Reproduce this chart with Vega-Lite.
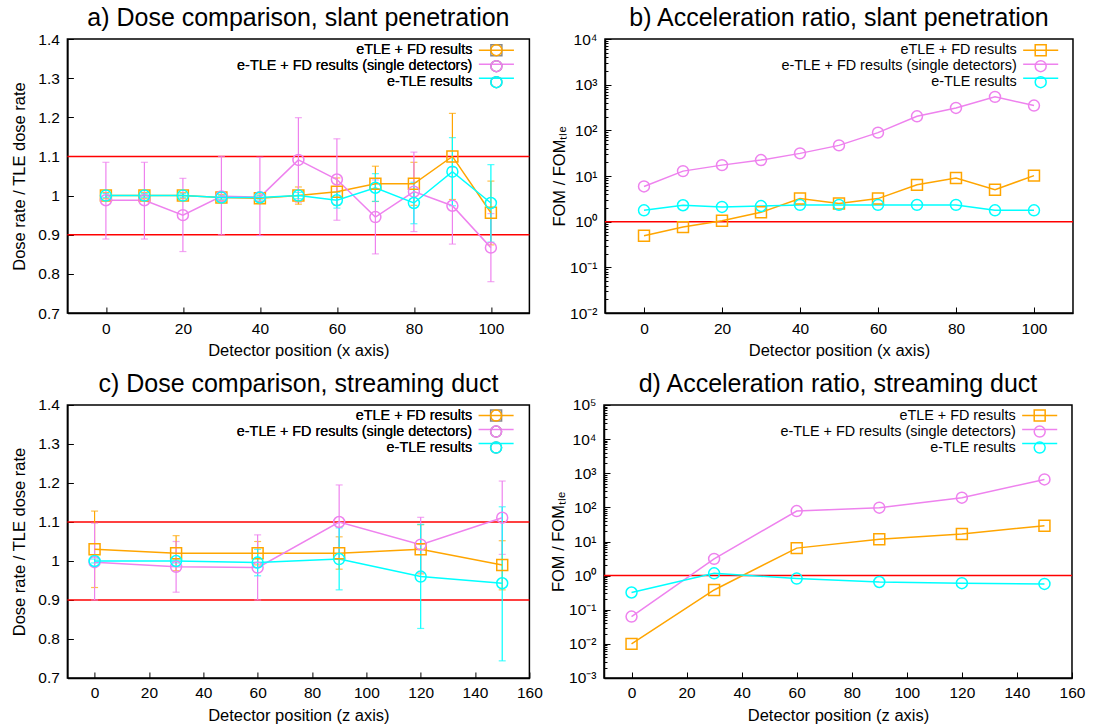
{
  "$schema": "https://vega.github.io/schema/vega-lite/v6.json",
  "padding": {"left": 10.4, "top": 5, "right": 5, "bottom": 0},
  "spacing": 11,
  "resolve": {"scale": {"color": "independent", "shape": "independent", "stroke": "independent"}, "legend": {"color": "independent", "shape": "independent", "stroke": "independent"}},
  "datasets": {
    "a": [
      {"s": "eTLE + FD results", "x": 0, "y": 1.0, "lo": 0.992, "hi": 1.008},
      {"s": "eTLE + FD results", "x": 10, "y": 1.0, "lo": 0.992, "hi": 1.008},
      {"s": "eTLE + FD results", "x": 20, "y": 1.0, "lo": 0.992, "hi": 1.008},
      {"s": "eTLE + FD results", "x": 30, "y": 0.995, "lo": 0.987, "hi": 1.003},
      {"s": "eTLE + FD results", "x": 40, "y": 0.993, "lo": 0.985, "hi": 1.001},
      {"s": "eTLE + FD results", "x": 50, "y": 1.0, "lo": 0.978, "hi": 1.022},
      {"s": "eTLE + FD results", "x": 60, "y": 1.01, "lo": 0.975, "hi": 1.045},
      {"s": "eTLE + FD results", "x": 70, "y": 1.03, "lo": 0.985, "hi": 1.075},
      {"s": "eTLE + FD results", "x": 80, "y": 1.03, "lo": 0.975, "hi": 1.085},
      {"s": "eTLE + FD results", "x": 90, "y": 1.1, "lo": 0.99, "hi": 1.21},
      {"s": "eTLE + FD results", "x": 100, "y": 0.956, "lo": 0.874, "hi": 1.037},
      {"s": "e-TLE + FD results (single detectors)", "x": 0, "y": 0.988, "lo": 0.889, "hi": 1.085},
      {"s": "e-TLE + FD results (single detectors)", "x": 10, "y": 0.988, "lo": 0.889, "hi": 1.085},
      {"s": "e-TLE + FD results (single detectors)", "x": 20, "y": 0.95, "lo": 0.857, "hi": 1.044},
      {"s": "e-TLE + FD results (single detectors)", "x": 30, "y": 0.998, "lo": 0.9, "hi": 1.1},
      {"s": "e-TLE + FD results (single detectors)", "x": 40, "y": 0.996, "lo": 0.898, "hi": 1.098},
      {"s": "e-TLE + FD results (single detectors)", "x": 50, "y": 1.091, "lo": 0.983, "hi": 1.199},
      {"s": "e-TLE + FD results (single detectors)", "x": 60, "y": 1.041, "lo": 0.937, "hi": 1.145},
      {"s": "e-TLE + FD results (single detectors)", "x": 70, "y": 0.945, "lo": 0.851, "hi": 1.04},
      {"s": "e-TLE + FD results (single detectors)", "x": 80, "y": 1.01, "lo": 0.908, "hi": 1.111},
      {"s": "e-TLE + FD results (single detectors)", "x": 90, "y": 0.974, "lo": 0.876, "hi": 1.072},
      {"s": "e-TLE + FD results (single detectors)", "x": 100, "y": 0.867, "lo": 0.78, "hi": 0.954},
      {"s": "e-TLE results", "x": 0, "y": 1.0, "lo": 0.995, "hi": 1.005},
      {"s": "e-TLE results", "x": 10, "y": 1.0, "lo": 0.995, "hi": 1.005},
      {"s": "e-TLE results", "x": 20, "y": 1.0, "lo": 0.995, "hi": 1.005},
      {"s": "e-TLE results", "x": 30, "y": 0.995, "lo": 0.99, "hi": 1.0},
      {"s": "e-TLE results", "x": 40, "y": 0.995, "lo": 0.989, "hi": 1.001},
      {"s": "e-TLE results", "x": 50, "y": 1.0, "lo": 0.992, "hi": 1.008},
      {"s": "e-TLE results", "x": 60, "y": 0.988, "lo": 0.968, "hi": 1.008},
      {"s": "e-TLE results", "x": 70, "y": 1.02, "lo": 0.985, "hi": 1.056},
      {"s": "e-TLE results", "x": 80, "y": 0.981, "lo": 0.928, "hi": 1.034},
      {"s": "e-TLE results", "x": 90, "y": 1.061, "lo": 0.974, "hi": 1.148},
      {"s": "e-TLE results", "x": 100, "y": 0.981, "lo": 0.881, "hi": 1.079}
    ],
    "b": [
      {"s": "eTLE + FD results", "x": 0, "y": 0.49},
      {"s": "eTLE + FD results", "x": 10, "y": 0.76},
      {"s": "eTLE + FD results", "x": 20, "y": 1.05},
      {"s": "eTLE + FD results", "x": 30, "y": 1.6},
      {"s": "eTLE + FD results", "x": 40, "y": 3.2},
      {"s": "eTLE + FD results", "x": 50, "y": 2.5},
      {"s": "eTLE + FD results", "x": 60, "y": 3.2},
      {"s": "eTLE + FD results", "x": 70, "y": 6.4},
      {"s": "eTLE + FD results", "x": 80, "y": 9.0},
      {"s": "eTLE + FD results", "x": 90, "y": 5.0},
      {"s": "eTLE + FD results", "x": 100, "y": 10.2},
      {"s": "e-TLE + FD results (single detectors)", "x": 0, "y": 5.9},
      {"s": "e-TLE + FD results (single detectors)", "x": 10, "y": 12.8},
      {"s": "e-TLE + FD results (single detectors)", "x": 20, "y": 17.3},
      {"s": "e-TLE + FD results (single detectors)", "x": 30, "y": 22.3},
      {"s": "e-TLE + FD results (single detectors)", "x": 40, "y": 31.3},
      {"s": "e-TLE + FD results (single detectors)", "x": 50, "y": 46.8},
      {"s": "e-TLE + FD results (single detectors)", "x": 60, "y": 89},
      {"s": "e-TLE + FD results (single detectors)", "x": 70, "y": 203},
      {"s": "e-TLE + FD results (single detectors)", "x": 80, "y": 309},
      {"s": "e-TLE + FD results (single detectors)", "x": 90, "y": 540},
      {"s": "e-TLE + FD results (single detectors)", "x": 100, "y": 349},
      {"s": "e-TLE results", "x": 0, "y": 1.77},
      {"s": "e-TLE results", "x": 10, "y": 2.29},
      {"s": "e-TLE results", "x": 20, "y": 2.1},
      {"s": "e-TLE results", "x": 30, "y": 2.2},
      {"s": "e-TLE results", "x": 40, "y": 2.33},
      {"s": "e-TLE results", "x": 50, "y": 2.33},
      {"s": "e-TLE results", "x": 60, "y": 2.33},
      {"s": "e-TLE results", "x": 70, "y": 2.33},
      {"s": "e-TLE results", "x": 80, "y": 2.33},
      {"s": "e-TLE results", "x": 90, "y": 1.77},
      {"s": "e-TLE results", "x": 100, "y": 1.77}
    ],
    "c": [
      {"s": "eTLE + FD results", "x": 0, "y": 1.03, "lo": 0.932, "hi": 1.128},
      {"s": "eTLE + FD results", "x": 30, "y": 1.02, "lo": 0.975, "hi": 1.065},
      {"s": "eTLE + FD results", "x": 60, "y": 1.02, "lo": 0.99, "hi": 1.05},
      {"s": "eTLE + FD results", "x": 90, "y": 1.02, "lo": 0.979, "hi": 1.062},
      {"s": "eTLE + FD results", "x": 120, "y": 1.03, "lo": 0.967, "hi": 1.093},
      {"s": "eTLE + FD results", "x": 150, "y": 0.99, "lo": 0.926, "hi": 1.052},
      {"s": "e-TLE + FD results (single detectors)", "x": 0, "y": 0.997, "lo": 0.9, "hi": 1.097},
      {"s": "e-TLE + FD results (single detectors)", "x": 30, "y": 0.985, "lo": 0.92, "hi": 1.05},
      {"s": "e-TLE + FD results (single detectors)", "x": 60, "y": 0.983, "lo": 0.9, "hi": 1.067},
      {"s": "e-TLE + FD results (single detectors)", "x": 90, "y": 1.1, "lo": 1.005, "hi": 1.195},
      {"s": "e-TLE + FD results (single detectors)", "x": 120, "y": 1.042, "lo": 0.97, "hi": 1.112},
      {"s": "e-TLE + FD results (single detectors)", "x": 150, "y": 1.111, "lo": 1.017, "hi": 1.205},
      {"s": "e-TLE results", "x": 0, "y": 1.0, "lo": 0.995, "hi": 1.005},
      {"s": "e-TLE results", "x": 30, "y": 1.0, "lo": 0.995, "hi": 1.005},
      {"s": "e-TLE results", "x": 60, "y": 0.996, "lo": 0.962, "hi": 1.03},
      {"s": "e-TLE results", "x": 90, "y": 1.005, "lo": 0.926, "hi": 1.085},
      {"s": "e-TLE results", "x": 120, "y": 0.96, "lo": 0.827, "hi": 1.094},
      {"s": "e-TLE results", "x": 150, "y": 0.943, "lo": 0.744, "hi": 1.139}
    ],
    "d": [
      {"s": "eTLE + FD results", "x": 0, "y": 0.01},
      {"s": "eTLE + FD results", "x": 30, "y": 0.38},
      {"s": "eTLE + FD results", "x": 60, "y": 6.4},
      {"s": "eTLE + FD results", "x": 90, "y": 11.6},
      {"s": "eTLE + FD results", "x": 120, "y": 16.6},
      {"s": "eTLE + FD results", "x": 150, "y": 29},
      {"s": "e-TLE + FD results (single detectors)", "x": 0, "y": 0.063},
      {"s": "e-TLE + FD results (single detectors)", "x": 30, "y": 3.1},
      {"s": "e-TLE + FD results (single detectors)", "x": 60, "y": 78},
      {"s": "e-TLE + FD results (single detectors)", "x": 90, "y": 98},
      {"s": "e-TLE + FD results (single detectors)", "x": 120, "y": 192},
      {"s": "e-TLE + FD results (single detectors)", "x": 150, "y": 660},
      {"s": "e-TLE results", "x": 0, "y": 0.32},
      {"s": "e-TLE results", "x": 30, "y": 1.17},
      {"s": "e-TLE results", "x": 60, "y": 0.82},
      {"s": "e-TLE results", "x": 90, "y": 0.65},
      {"s": "e-TLE results", "x": 120, "y": 0.6},
      {"s": "e-TLE results", "x": 150, "y": 0.57}
    ]
  },
  "vconcat": [
    {
      "hconcat": [
        {
          "width": 462, "height": 274,
          "title": "a) Dose comparison, slant penetration",
          "resolve": {"scale": {"color": "independent"}},
          "layer": [
            {"data": {"values": [{"y": 0.9}, {"y": 1.1}]}, "mark": {"type": "rule", "color": "#ff0000", "strokeWidth": 1.5},
             "encoding": {"y": {"field": "y", "type": "quantitative", "title": "Dose rate / TLE dose rate", "scale": {"domain": [0.7, 1.4], "nice": false, "zero": false}, "axis": {"values": [0.7, 0.8, 0.9, 1.0, 1.1, 1.2, 1.3, 1.4], "format": ".1~f", "labelOverlap": false}}}},
            {"data": {"name": "a"}, "mark": {"type": "errorbar", "ticks": {"size": 7}, "thickness": 1.2},
             "encoding": {"x": {"field": "x", "type": "quantitative", "title": "Detector position (x axis)", "scale": {"domain": [-10, 110], "nice": false, "zero": false}, "axis": {"values": [0, 20, 40, 60, 80, 100], "format": "d", "labelOverlap": false}},
                          "y": {"field": "lo", "type": "quantitative", "title": "Dose rate / TLE dose rate", "axis": {"values": [0.7, 0.8, 0.9, 1.0, 1.1, 1.2, 1.3, 1.4], "format": ".1~f", "labelOverlap": false}}, "y2": {"field": "hi"},
                          "color": {"field": "s", "type": "nominal", "scale": {"domain": ["eTLE + FD results", "e-TLE + FD results (single detectors)", "e-TLE results"], "range": ["#ffa500", "#ee82ee", "#00ffff"]}, "legend": null}}},
            {"data": {"name": "a"}, "mark": {"type": "line", "strokeWidth": 1.5},
             "encoding": {"x": {"field": "x", "type": "quantitative", "title": "Detector position (x axis)"}, "y": {"field": "y", "type": "quantitative", "title": "Dose rate / TLE dose rate", "axis": {"values": [0.7, 0.8, 0.9, 1.0, 1.1, 1.2, 1.3, 1.4], "format": ".1~f", "labelOverlap": false}},
                          "stroke": {"field": "s", "type": "nominal", "scale": {"domain": ["eTLE + FD results", "e-TLE + FD results (single detectors)", "e-TLE results", "~"], "range": ["#ffa500", "#ee82ee", "#00ffff", "#000000"]},
                                     "legend": {"values": ["eTLE + FD results", "e-TLE + FD results (single detectors)", "e-TLE results"], "symbolType": "M-3.2,0H3.2", "labelExpr": "' '", "labelOffset": 0, "legendX": 421.8, "legendY": 4}}}},
            {"data": {"name": "a"}, "mark": {"type": "point", "filled": false, "size": 120, "strokeWidth": 1.5, "opacity": 1},
             "encoding": {"x": {"field": "x", "type": "quantitative", "title": "Detector position (x axis)"}, "y": {"field": "y", "type": "quantitative", "title": "Dose rate / TLE dose rate", "axis": {"values": [0.7, 0.8, 0.9, 1.0, 1.1, 1.2, 1.3, 1.4], "format": ".1~f", "labelOverlap": false}},
                          "color": {"field": "s", "type": "nominal", "scale": {"domain": ["eTLE + FD results", "e-TLE + FD results (single detectors)", "e-TLE results"], "range": ["#ffa500", "#ee82ee", "#00ffff"]}, "legend": {"legendX": 421.8, "legendY": 4}},
                          "shape": {"field": "s", "type": "nominal", "scale": {"domain": ["eTLE + FD results", "e-TLE + FD results (single detectors)", "e-TLE results"], "range": ["square", "circle", "circle"]}, "legend": {"legendX": 421.8, "legendY": 4}}}}
          ]
        },
        {
          "width": 468, "height": 274,
          "title": "b) Acceleration ratio, slant penetration",
          "layer": [
            {"data": {"values": [{"y": 1}]}, "mark": {"type": "rule", "color": "#ff0000", "strokeWidth": 1.5},
             "encoding": {"y": {"field": "y", "type": "quantitative", "title": "FOM / FOMₜₗₑ", "scale": {"type": "log", "domain": [0.01, 10000], "nice": false},
               "axis": {"titlePadding": 2, "values": [0.01,0.02,0.03,0.04,0.05,0.06,0.07,0.08,0.09,0.1,0.2,0.3,0.4,0.5,0.6,0.7,0.8,0.9,1,2,3,4,5,6,7,8,9,10,20,30,40,50,60,70,80,90,100,200,300,400,500,600,700,800,900,1000,2000,3000,4000,5000,6000,7000,8000,9000,10000],
                        "labelExpr": "abs(log(datum.value)/LN10 - round(log(datum.value)/LN10)) < 0.001 ? '10' + replace(replace(replace(replace(replace(replace(replace(toString(round(log(datum.value)/LN10)),'-','⁻'),'0','⁰'),'1','¹'),'2','²'),'3','³'),'4','⁴'),'5','⁵') : ''",
                        "tickSize": {"condition": {"test": "abs(log(datum.value)/LN10 - round(log(datum.value)/LN10)) < 0.001", "value": -6}, "value": -3}}}}},
            {"data": {"name": "b"}, "mark": {"type": "line", "strokeWidth": 1.5},
             "encoding": {"x": {"field": "x", "type": "quantitative", "title": "Detector position (x axis)", "scale": {"domain": [-10, 110], "nice": false, "zero": false}, "axis": {"values": [0, 20, 40, 60, 80, 100], "format": "d", "labelOverlap": false}},
                          "y": {"field": "y", "type": "quantitative", "title": "FOM / FOMₜₗₑ"},
                          "stroke": {"field": "s", "type": "nominal", "scale": {"domain": ["eTLE + FD results", "e-TLE + FD results (single detectors)", "e-TLE results", "~"], "range": ["#ffa500", "#ee82ee", "#00ffff", "#000000"]},
                                     "legend": {"values": ["eTLE + FD results", "e-TLE + FD results (single detectors)", "e-TLE results"], "symbolType": "M-3.2,0H3.2", "labelExpr": "' '", "labelOffset": 0, "legendX": 428.5, "legendY": 4}}}},
            {"data": {"name": "b"}, "mark": {"type": "point", "filled": false, "size": 120, "strokeWidth": 1.5, "opacity": 1},
             "encoding": {"x": {"field": "x", "type": "quantitative", "title": "Detector position (x axis)"}, "y": {"field": "y", "type": "quantitative", "title": "FOM / FOMₜₗₑ"},
                          "color": {"field": "s", "type": "nominal", "scale": {"domain": ["eTLE + FD results", "e-TLE + FD results (single detectors)", "e-TLE results"], "range": ["#ffa500", "#ee82ee", "#00ffff"]}, "legend": {"legendX": 428.5, "legendY": 4}},
                          "shape": {"field": "s", "type": "nominal", "scale": {"domain": ["eTLE + FD results", "e-TLE + FD results (single detectors)", "e-TLE results"], "range": ["square", "circle", "circle"]}, "legend": {"legendX": 428.5, "legendY": 4}}}}
          ]
        }
      ],
      "spacing": 18.6,
      "resolve": {"scale": {"color": "independent", "shape": "independent", "stroke": "independent"}, "legend": {"color": "independent", "shape": "independent", "stroke": "independent"}}
    },
    {
      "hconcat": [
        {
          "width": 462, "height": 273,
          "title": "c) Dose comparison, streaming duct",
          "resolve": {"scale": {"color": "independent"}},
          "layer": [
            {"data": {"values": [{"y": 0.9}, {"y": 1.1}]}, "mark": {"type": "rule", "color": "#ff0000", "strokeWidth": 1.5},
             "encoding": {"y": {"field": "y", "type": "quantitative", "title": "Dose rate / TLE dose rate", "scale": {"domain": [0.7, 1.4], "nice": false, "zero": false}, "axis": {"values": [0.7, 0.8, 0.9, 1.0, 1.1, 1.2, 1.3, 1.4], "format": ".1~f", "labelOverlap": false}}}},
            {"data": {"name": "c"}, "mark": {"type": "errorbar", "ticks": {"size": 7}, "thickness": 1.2},
             "encoding": {"x": {"field": "x", "type": "quantitative", "title": "Detector position (z axis)", "scale": {"domain": [-10, 160], "nice": false, "zero": false}, "axis": {"values": [0, 20, 40, 60, 80, 100, 120, 140, 160], "format": "d", "labelOverlap": false}},
                          "y": {"field": "lo", "type": "quantitative", "title": "Dose rate / TLE dose rate", "axis": {"values": [0.7, 0.8, 0.9, 1.0, 1.1, 1.2, 1.3, 1.4], "format": ".1~f", "labelOverlap": false}}, "y2": {"field": "hi"},
                          "color": {"field": "s", "type": "nominal", "scale": {"domain": ["eTLE + FD results", "e-TLE + FD results (single detectors)", "e-TLE results"], "range": ["#ffa500", "#ee82ee", "#00ffff"]}, "legend": null}}},
            {"data": {"name": "c"}, "mark": {"type": "line", "strokeWidth": 1.5},
             "encoding": {"x": {"field": "x", "type": "quantitative", "title": "Detector position (z axis)"}, "y": {"field": "y", "type": "quantitative", "title": "Dose rate / TLE dose rate", "axis": {"values": [0.7, 0.8, 0.9, 1.0, 1.1, 1.2, 1.3, 1.4], "format": ".1~f", "labelOverlap": false}},
                          "stroke": {"field": "s", "type": "nominal", "scale": {"domain": ["eTLE + FD results", "e-TLE + FD results (single detectors)", "e-TLE results", "~"], "range": ["#ffa500", "#ee82ee", "#00ffff", "#000000"]},
                                     "legend": {"values": ["eTLE + FD results", "e-TLE + FD results (single detectors)", "e-TLE results"], "symbolType": "M-3.2,0H3.2", "labelExpr": "' '", "labelOffset": 0, "legendX": 421.5, "legendY": 3.4}}}},
            {"data": {"name": "c"}, "mark": {"type": "point", "filled": false, "size": 120, "strokeWidth": 1.5, "opacity": 1},
             "encoding": {"x": {"field": "x", "type": "quantitative", "title": "Detector position (z axis)"}, "y": {"field": "y", "type": "quantitative", "title": "Dose rate / TLE dose rate", "axis": {"values": [0.7, 0.8, 0.9, 1.0, 1.1, 1.2, 1.3, 1.4], "format": ".1~f", "labelOverlap": false}},
                          "color": {"field": "s", "type": "nominal", "scale": {"domain": ["eTLE + FD results", "e-TLE + FD results (single detectors)", "e-TLE results"], "range": ["#ffa500", "#ee82ee", "#00ffff"]}, "legend": {"legendX": 421.5, "legendY": 3.4}},
                          "shape": {"field": "s", "type": "nominal", "scale": {"domain": ["eTLE + FD results", "e-TLE + FD results (single detectors)", "e-TLE results"], "range": ["square", "circle", "circle"]}, "legend": {"legendX": 421.5, "legendY": 3.4}}}}
          ]
        },
        {
          "width": 468, "height": 273,
          "title": "d) Acceleration ratio, streaming duct",
          "layer": [
            {"data": {"values": [{"y": 1}]}, "mark": {"type": "rule", "color": "#ff0000", "strokeWidth": 1.5},
             "encoding": {"y": {"field": "y", "type": "quantitative", "title": "FOM / FOMₜₗₑ", "scale": {"type": "log", "domain": [0.001, 100000], "nice": false},
               "axis": {"titlePadding": 2, "values": [0.001,0.002,0.003,0.004,0.005,0.006,0.007,0.008,0.009,0.01,0.02,0.03,0.04,0.05,0.06,0.07,0.08,0.09,0.1,0.2,0.3,0.4,0.5,0.6,0.7,0.8,0.9,1,2,3,4,5,6,7,8,9,10,20,30,40,50,60,70,80,90,100,200,300,400,500,600,700,800,900,1000,2000,3000,4000,5000,6000,7000,8000,9000,10000,20000,30000,40000,50000,60000,70000,80000,90000,100000],
                        "labelExpr": "abs(log(datum.value)/LN10 - round(log(datum.value)/LN10)) < 0.001 ? '10' + replace(replace(replace(replace(replace(replace(replace(toString(round(log(datum.value)/LN10)),'-','⁻'),'0','⁰'),'1','¹'),'2','²'),'3','³'),'4','⁴'),'5','⁵') : ''",
                        "tickSize": {"condition": {"test": "abs(log(datum.value)/LN10 - round(log(datum.value)/LN10)) < 0.001", "value": -6}, "value": -3}}}}},
            {"data": {"name": "d"}, "mark": {"type": "line", "strokeWidth": 1.5},
             "encoding": {"x": {"field": "x", "type": "quantitative", "title": "Detector position (z axis)", "scale": {"domain": [-10, 160], "nice": false, "zero": false}, "axis": {"values": [0, 20, 40, 60, 80, 100, 120, 140, 160], "format": "d", "labelOverlap": false}},
                          "y": {"field": "y", "type": "quantitative", "title": "FOM / FOMₜₗₑ"},
                          "stroke": {"field": "s", "type": "nominal", "scale": {"domain": ["eTLE + FD results", "e-TLE + FD results (single detectors)", "e-TLE results", "~"], "range": ["#ffa500", "#ee82ee", "#00ffff", "#000000"]},
                                     "legend": {"values": ["eTLE + FD results", "e-TLE + FD results (single detectors)", "e-TLE results"], "symbolType": "M-3.2,0H3.2", "labelExpr": "' '", "labelOffset": 0, "legendX": 428.5, "legendY": 3.4}}}},
            {"data": {"name": "d"}, "mark": {"type": "point", "filled": false, "size": 120, "strokeWidth": 1.5, "opacity": 1},
             "encoding": {"x": {"field": "x", "type": "quantitative", "title": "Detector position (z axis)"}, "y": {"field": "y", "type": "quantitative", "title": "FOM / FOMₜₗₑ"},
                          "color": {"field": "s", "type": "nominal", "scale": {"domain": ["eTLE + FD results", "e-TLE + FD results (single detectors)", "e-TLE results"], "range": ["#ffa500", "#ee82ee", "#00ffff"]}, "legend": {"legendX": 428.5, "legendY": 3.4}},
                          "shape": {"field": "s", "type": "nominal", "scale": {"domain": ["eTLE + FD results", "e-TLE + FD results (single detectors)", "e-TLE results"], "range": ["square", "circle", "circle"]}, "legend": {"legendX": 428.5, "legendY": 3.4}}}}
          ]
        }
      ],
      "spacing": 5.6,
      "resolve": {"scale": {"color": "independent", "shape": "independent", "stroke": "independent"}, "legend": {"color": "independent", "shape": "independent", "stroke": "independent"}}
    }
  ],
  "config": {
    "font": "Liberation Sans",
    "view": {"stroke": "#000000", "strokeWidth": 1.5},
    "title": {"fontSize": 25, "fontWeight": "normal", "color": "#000000", "offset": 1},
    "axis": {"grid": false, "domainColor": "#000000", "domainWidth": 1.5, "tickColor": "#000000", "tickWidth": 1, "tickSize": -6, "labelPadding": 14, "labelColor": "#000000", "labelFontSize": 15.5, "labelOverlap": false, "labelFlush": false, "labelBound": false, "titleColor": "#000000", "titleFontSize": 16.5, "titleFontWeight": "normal", "titlePadding": 10},
    "axisX": {"titlePadding": 6},
    "legend": {"orient": "none", "title": null, "labelFontSize": 14.4, "labelColor": "#000000", "labelAlign": "right", "labelOffset": -31.2, "labelLimit": 400, "symbolSize": 120, "symbolStrokeWidth": 1.5, "rowPadding": -7, "padding": 0}
  }
}
